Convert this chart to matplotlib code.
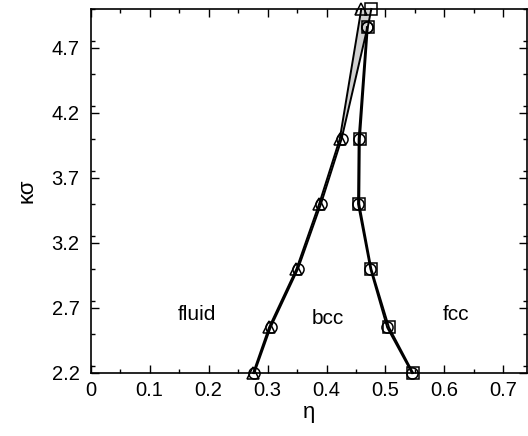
import matplotlib
matplotlib.use("Agg")
import matplotlib.pyplot as plt
from matplotlib.ticker import MultipleLocator

plt.rcParams['font.family'] = ['Liberation Sans', 'DejaVu Sans']

# fluid-bcc boundary, method A (triangles)
tri_eta = [0.2756, 0.3025, 0.349, 0.3875, 0.4225, 0.459]
tri_k = [2.2, 2.55, 3.0, 3.5, 4.0, 5.0]
# fluid-bcc boundary, method B (circles)
circL_eta = [0.2775, 0.305, 0.3515, 0.3905, 0.4255, 0.4695]
circL_k = [2.2, 2.55, 3.0, 3.5, 4.0, 4.86]
# bcc-fcc boundary, method A (squares)
sq_eta = [0.5468, 0.506, 0.476, 0.4555, 0.4565, 0.4700, 0.476]
sq_k = [2.2, 2.55, 3.0, 3.5, 4.0, 4.86, 5.0]
# bcc-fcc boundary, method B (circles)
circR_eta = [0.5450, 0.503, 0.4745, 0.4535, 0.4545, 0.4685]
circR_k = [2.2, 2.55, 3.0, 3.5, 4.0, 4.86]

region_labels = ["fluid", "bcc", "fcc"]
region_eta = [0.18, 0.403, 0.62]
region_k = [2.65, 2.62, 2.65]

xticks = [0, 0.1, 0.2, 0.3, 0.4, 0.5, 0.6, 0.7]
xticklabels = ["0", "0.1", "0.2", "0.3", "0.4", "0.5", "0.6", "0.7"]
yticks = [2.2, 2.7, 3.2, 3.7, 4.2, 4.7]
yticklabels = ["2.2", "2.7", "3.2", "3.7", "4.2", "4.7"]

fig = plt.figure(figsize=(5.28, 4.36), dpi=100)
ax = fig.add_axes([0.1718, 0.1445, 0.8262, 0.8349])

# gray coexistence wedge at high kappa
poly_x = [tri_eta[4], tri_eta[5], sq_eta[6], circL_eta[5], circL_eta[4]]
poly_y = [tri_k[4], tri_k[5], sq_k[6], circL_k[5], circL_k[4]]
ax.fill(poly_x, poly_y, color="#d0d0d0", zorder=1, linewidth=0)

lkw = dict(color="black", linewidth=1.4, markersize=8, markerfacecolor="none",
           markeredgecolor="black", markeredgewidth=1.1, clip_on=False, zorder=3)
ax.plot(tri_eta, tri_k, marker="^", **lkw)
ax.plot(circL_eta, circL_k, marker="o", **lkw)
ax.plot(sq_eta, sq_k, marker="s", **lkw)
ax.plot(circR_eta, circR_k, marker="o", **lkw)

for lab, x, y in zip(region_labels, region_eta, region_k):
    ax.text(x, y, lab, fontsize=15, ha="center", va="center")

ax.set_xlim(0, 0.74)
ax.set_ylim(2.2, 5.0)
ax.set_xticks(xticks)
ax.set_xticklabels(xticklabels)
ax.set_yticks(yticks)
ax.set_yticklabels(yticklabels)
ax.xaxis.set_minor_locator(MultipleLocator(0.05))
ax.yaxis.set_minor_locator(MultipleLocator(0.25))
ax.tick_params(which="both", direction="in", top=True, right=True,
               labelsize=14.5, width=1.0)
ax.tick_params(which="major", length=6)
ax.tick_params(which="minor", length=3)
ax.tick_params(axis="x", pad=6)
ax.tick_params(axis="y", pad=8)
for s in ax.spines.values():
    s.set_linewidth(1.2)

ax.set_xlabel("η", fontsize=16, labelpad=1)
ax.set_ylabel("κσ", fontsize=16, labelpad=10)

fig.savefig("out.png", dpi=100)
